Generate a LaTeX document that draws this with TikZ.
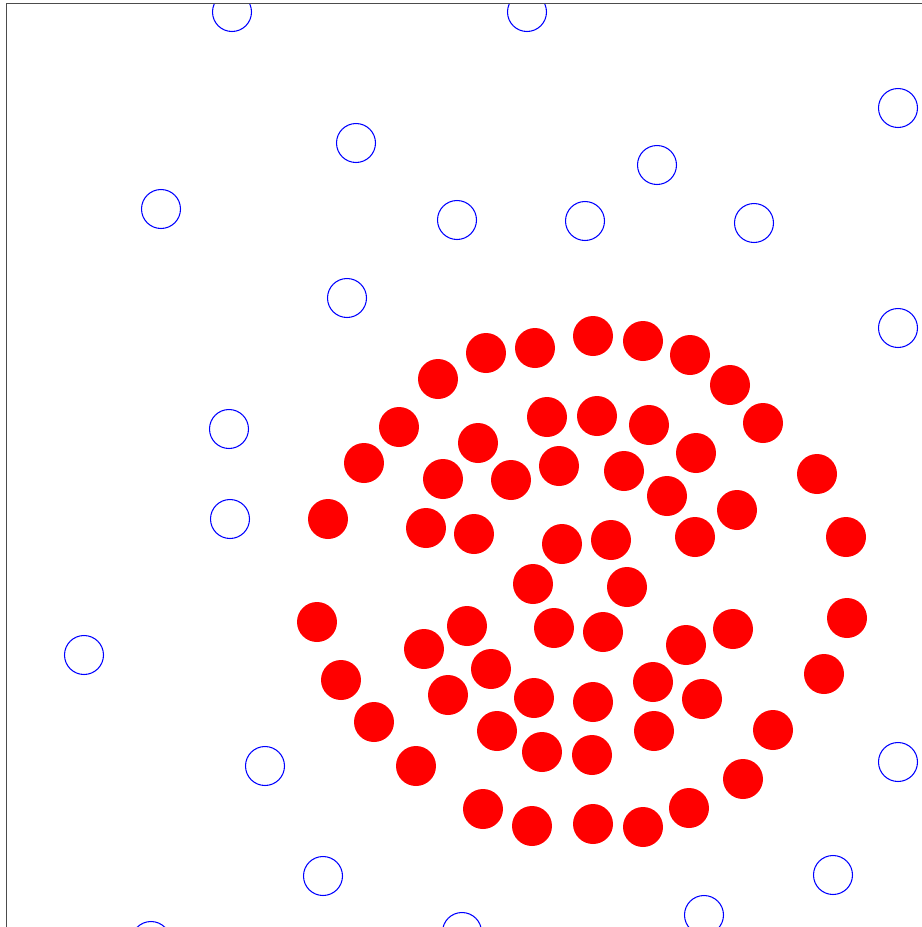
\documentclass[tikz,border=0pt]{standalone}
\usepackage{xcolor}
\usepackage{tikz}
\usetikzlibrary{positioning, shapes}

\begin{document}
\begin{tikzpicture}[
    x=0.02cm, y=-0.02cm,
    hole/.style={circle, draw=blue, line width=0.6pt, minimum size=0.78cm, inner sep=0pt},
    disc/.style={circle, fill=red, minimum size=0.8cm, inner sep=0pt},
    frame/.style={draw=gray!60!black, line width=0.9pt}
]
\useasboundingbox (0,0) rectangle (922,927);

\begin{scope}
\clip (6.5,3.5) rectangle (922,927);

% 空心圆（蓝）
\foreach \px/\py [count=\i] in {232/12, 527/12, 898/108, 356/143, 657/165, 161/209,
    457/220, 585/221, 754/223, 347/298, 898/328, 229/429, 230/519, 84/655,
    265/766, 898/762, 323/876, 833/875, 151/941, 462/932, 704/915}
    \node[hole] (b\i) at (\px,\py) {};

% 外圈（红）
\foreach \px/\py [count=\i] in {593/336, 643/341, 535/348, 486/353, 690/355, 438/379,
    730/385, 399/427, 763/423, 364/463, 817/474, 328/519, 846/537, 317/622,
    847/618, 341/680, 824/674, 374/722, 773/730, 416/766, 743/779, 483/809,
    689/808, 532/826, 593/824, 643/827}
    \node[disc] (ro\i) at (\px,\py) {};

% 内部（红）
\foreach \px/\py [count=\i] in {547/417, 597/416, 649/425, 478/443, 696/453, 443/479,
    511/480, 559/466, 624/471, 667/496, 737/510, 426/528, 474/534, 562/544,
    611/540, 695/537, 533/584, 627/587, 467/626, 554/628, 603/632, 733/629,
    424/649, 686/645, 491/669, 448/695, 534/698, 593/702, 653/682, 702/699,
    497/731, 654/731, 542/752, 592/755}
    \node[disc] (ri\i) at (\px,\py) {};
\end{scope}

% 边框
\draw[frame] (922,3.5) -- (6.5,3.5) -- (6.5,927);

\end{tikzpicture}
\end{document}
